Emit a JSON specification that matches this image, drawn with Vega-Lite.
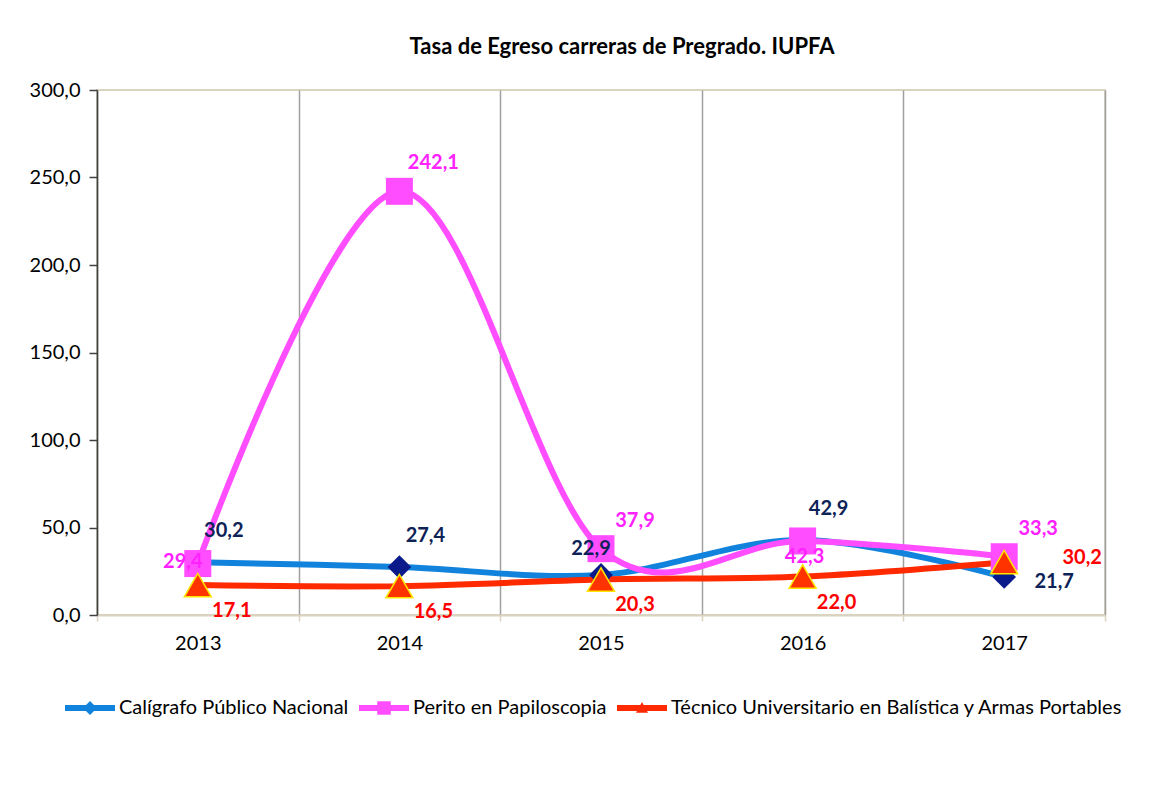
{
  "$schema": "https://vega.github.io/schema/vega-lite/v6.json",
  "width": 1008,
  "height": 525,
  "autosize": {"type": "none"},
  "padding": {"left": 97, "top": 90, "right": 49, "bottom": 170},
  "background": "white",
  "title": {
    "text": "Tasa de Egreso carreras de Pregrado. IUPFA",
    "font": "Lato",
    "fontSize": 22,
    "fontWeight": "bold",
    "color": "black",
    "anchor": "middle",
    "dx": 21,
    "offset": 21
  },
  "data": {
    "values": [
      {"serie": "Calígrafo Público Nacional", "year": "2013", "valor": 30.2},
      {"serie": "Calígrafo Público Nacional", "year": "2014", "valor": 27.4},
      {"serie": "Calígrafo Público Nacional", "year": "2015", "valor": 22.9},
      {"serie": "Calígrafo Público Nacional", "year": "2016", "valor": 42.9},
      {"serie": "Calígrafo Público Nacional", "year": "2017", "valor": 21.7},
      {"serie": "Perito en Papiloscopia", "year": "2013", "valor": 29.4},
      {"serie": "Perito en Papiloscopia", "year": "2014", "valor": 242.1},
      {"serie": "Perito en Papiloscopia", "year": "2015", "valor": 37.9},
      {"serie": "Perito en Papiloscopia", "year": "2016", "valor": 42.3},
      {"serie": "Perito en Papiloscopia", "year": "2017", "valor": 33.3},
      {"serie": "Técnico Universitario en Balística y Armas Portables", "year": "2013", "valor": 17.1},
      {"serie": "Técnico Universitario en Balística y Armas Portables", "year": "2014", "valor": 16.5},
      {"serie": "Técnico Universitario en Balística y Armas Portables", "year": "2015", "valor": 20.3},
      {"serie": "Técnico Universitario en Balística y Armas Portables", "year": "2016", "valor": 22.0},
      {"serie": "Técnico Universitario en Balística y Armas Portables", "year": "2017", "valor": 30.2}
    ]
  },
  "encoding": {
    "x": {
      "field": "year",
      "type": "ordinal",
      "bandPosition": 0.5,
      "scale": {"type": "band", "paddingInner": 0, "paddingOuter": 0},
      "axis": {
        "title": null,
        "labelAngle": 0,
        "labelFont": "Lato",
        "labelFontSize": 20,
        "labelColor": "black",
        "labelPadding": 12,
        "domainColor": "#d9d3bf",
        "domainWidth": 2,
        "tickColor": "#d9d3bf",
        "tickWidth": 1.5,
        "tickSize": 6,
        "tickBand": "extent",
        "grid": true,
        "gridColor": "#a0a0a0",
        "gridWidth": 1.5
      }
    },
    "y": {
      "field": "valor",
      "type": "quantitative",
      "scale": {"domain": [0, 300], "nice": false},
      "axis": {
        "title": null,
        "values": [0, 50, 100, 150, 200, 250, 300],
        "format": ".1f",
        "labelFont": "Lato",
        "labelFontSize": 20,
        "labelColor": "black",
        "labelPadding": 9,
        "domainColor": "#404040",
        "domainWidth": 1.5,
        "tickColor": "#404040",
        "tickWidth": 1.5,
        "tickSize": 8,
        "grid": false
      }
    }
  },
  "layer": [
    {
      "mark": {"type": "point", "filled": true, "opacity": 0},
      "encoding": {
        "color": {
          "field": "serie",
          "type": "nominal",
          "scale": {
            "domain": ["Calígrafo Público Nacional", "Perito en Papiloscopia", "Técnico Universitario en Balística y Armas Portables"],
            "range": ["#1283dc", "#ff4dff", "#ff2a00"]
          },
          "legend": {
            "title": null,
            "orient": "none",
            "direction": "horizontal",
            "legendX": -32,
            "legendY": 593,
            "symbolSize": 2500,
            "symbolOpacity": 1,
            "symbolStrokeWidth": 0,
            "labelFont": "Lato",
            "labelFontSize": 20,
            "labelColor": "black",
            "labelLimit": 700,
            "labelOffset": 4,
            "columnPadding": 10,
            "encode": {"symbols": {"update": {"opacity": {"value": 1}}}}
          }
        },
        "shape": {
          "field": "serie",
          "type": "nominal",
          "scale": {
            "domain": ["Calígrafo Público Nacional", "Perito en Papiloscopia", "Técnico Universitario en Balística y Armas Portables"],
            "range": [
              "M-1,-0.12L1,-0.12L1,0.12L-1,0.12Z M0,-0.28L0.28,0L0,0.28L-0.28,0Z",
              "M-1,-0.12L1,-0.12L1,0.12L-1,0.12Z M-0.27,-0.27L0.27,-0.27L0.27,0.27L-0.27,0.27Z",
              "M-1,-0.12L1,-0.12L1,0.12L-1,0.12Z M0,-0.24L0.24,0.19L-0.24,0.19Z"
            ]
          },
          "legend": {
            "title": null,
            "orient": "none",
            "direction": "horizontal",
            "legendX": -32,
            "legendY": 593,
            "symbolSize": 2500,
            "symbolOpacity": 1,
            "symbolStrokeWidth": 0,
            "labelFont": "Lato",
            "labelFontSize": 20,
            "labelColor": "black",
            "labelLimit": 700,
            "labelOffset": 4,
            "columnPadding": 10
          }
        }
      }
    },
    {
      "mark": {"type": "line", "interpolate": "cardinal", "strokeWidth": 6, "strokeCap": "round"},
      "encoding": {
        "color": {"field": "serie", "type": "nominal", "legend": null}
      }
    },
    {
      "transform": [{"filter": "datum.serie === 'Calígrafo Público Nacional'"}],
      "mark": {"type": "point", "shape": "diamond", "filled": true, "color": "#0a1a8a", "size": 560, "opacity": 1}
    },
    {
      "transform": [{"filter": "datum.serie === 'Perito en Papiloscopia'"}],
      "mark": {"type": "point", "shape": "square", "filled": true, "color": "#ff4dff", "size": 729, "opacity": 1}
    },
    {
      "transform": [{"filter": "datum.serie === 'Técnico Universitario en Balística y Armas Portables'"}],
      "mark": {"type": "point", "shape": "triangle-up", "filled": true, "fill": "#ff3300", "stroke": "#ffe600", "strokeWidth": 1.5, "size": 729, "opacity": 1}
    },
    {
      "transform": [{"filter": "datum.serie === 'Calígrafo Público Nacional' && indexof(['2013','2014','2016'], datum.year) >= 0"}],
      "mark": {"type": "text", "font": "Lato", "fontSize": 20, "fontWeight": "bold", "color": "#0d2257", "dx": 26, "dy": -31},
      "encoding": {"text": {"field": "valor", "type": "quantitative", "format": ".1f"}}
    },
    {
      "transform": [{"filter": "datum.serie === 'Calígrafo Público Nacional' && datum.year === '2015'"}],
      "mark": {"type": "text", "font": "Lato", "fontSize": 20, "fontWeight": "bold", "color": "#0d2257", "dx": -10, "dy": -26},
      "encoding": {"text": {"field": "valor", "type": "quantitative", "format": ".1f"}}
    },
    {
      "transform": [{"filter": "datum.serie === 'Calígrafo Público Nacional' && datum.year === '2017'"}],
      "mark": {"type": "text", "font": "Lato", "fontSize": 20, "fontWeight": "bold", "color": "#0d2257", "dx": 50, "dy": 5},
      "encoding": {"text": {"field": "valor", "type": "quantitative", "format": ".1f"}}
    },
    {
      "transform": [{"filter": "datum.serie === 'Perito en Papiloscopia' && indexof(['2014','2015','2017'], datum.year) >= 0"}],
      "mark": {"type": "text", "font": "Lato", "fontSize": 20, "fontWeight": "bold", "color": "#ff22ff", "dx": 34, "dy": -28},
      "encoding": {"text": {"field": "valor", "type": "quantitative", "format": ".1f"}}
    },
    {
      "transform": [{"filter": "datum.serie === 'Perito en Papiloscopia' && datum.year === '2013'"}],
      "mark": {"type": "text", "font": "Lato", "fontSize": 20, "fontWeight": "bold", "color": "#ff22ff", "dx": -15, "dy": -2},
      "encoding": {"text": {"field": "valor", "type": "quantitative", "format": ".1f"}}
    },
    {
      "transform": [{"filter": "datum.serie === 'Perito en Papiloscopia' && datum.year === '2016'"}],
      "mark": {"type": "text", "font": "Lato", "fontSize": 20, "fontWeight": "bold", "color": "#ff22ff", "dx": 2, "dy": 16},
      "encoding": {"text": {"field": "valor", "type": "quantitative", "format": ".1f"}}
    },
    {
      "transform": [{"filter": "datum.serie === 'Técnico Universitario en Balística y Armas Portables' && datum.year !== '2017'"}],
      "mark": {"type": "text", "font": "Lato", "fontSize": 20, "fontWeight": "bold", "color": "#ff0000", "dx": 34, "dy": 26},
      "encoding": {"text": {"field": "valor", "type": "quantitative", "format": ".1f"}}
    },
    {
      "transform": [{"filter": "datum.serie === 'Técnico Universitario en Balística y Armas Portables' && datum.year === '2017'"}],
      "mark": {"type": "text", "font": "Lato", "fontSize": 20, "fontWeight": "bold", "color": "#ff0000", "dx": 78, "dy": -4},
      "encoding": {"text": {"field": "valor", "type": "quantitative", "format": ".1f"}}
    }
  ],
  "config": {
    "locale": {
      "number": {"decimal": ",", "thousands": ".", "grouping": [3], "currency": ["$", ""]}
    },
    "view": {"stroke": "#d9d3bf", "strokeWidth": 2},
    "font": "Lato"
  }
}
